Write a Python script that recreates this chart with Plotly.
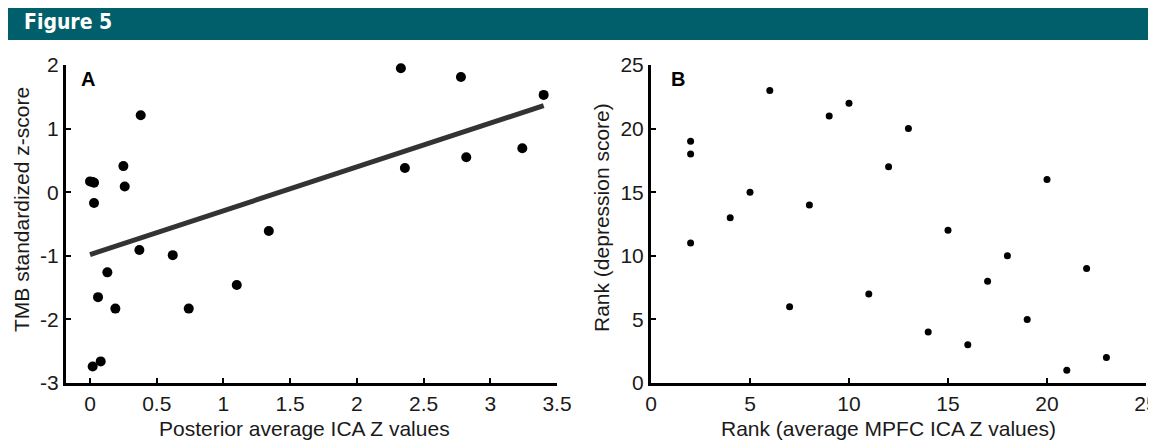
import plotly.graph_objects as go

# Panel A data: posterior average ICA Z values vs TMB standardized z-score
ica_z = [0.00, 0.03, 0.02, 0.03, 0.25, 0.26, 0.38, 0.37, 0.62, 0.13, 0.06, 0.19,
         0.74, 1.10, 1.34, 0.02, 0.08, 2.33, 2.78, 3.40, 2.36, 2.82, 3.24]
tmb_z = [0.17, 0.15, 0.16, -0.17, 0.41, 0.09, 1.21, -0.91, -0.99, -1.26, -1.65, -1.83,
         -1.83, -1.46, -0.61, -2.74, -2.66, 1.95, 1.81, 1.53, 0.38, 0.55, 0.69]
fit_x = [0.0, 3.40]
fit_y = [-0.98, 1.36]

# Panel B data: ranks
rank_mpfc = [2, 2, 2, 4, 5, 6, 7, 8, 9, 10, 11, 12, 13, 14, 15, 16, 17, 18, 19, 20, 21, 22, 23]
rank_dep = [19, 18, 11, 13, 15, 23, 6, 14, 21, 22, 7, 17, 20, 4, 12, 3, 8, 10, 5, 16, 1, 9, 2]

ticks_a_x = [0, 0.5, 1, 1.5, 2, 2.5, 3, 3.5]
ticks_a_y = [-3, -2, -1, 0, 1, 2]
ticks_b = [0, 5, 10, 15, 20, 25]

title_a_x = "Posterior average ICA Z values"
title_a_y = "TMB standardized z-score"
title_b_x = "Rank (average MPFC ICA Z values)"
title_b_y = "Rank (depression score)"

# page body has an 8px margin, so the figure is drawn 8px in from the window edge
OFF = 8
W, H = 1156 - OFF, 440 - OFF
FONT = "Liberation Sans, Arial, Helvetica, sans-serif"
TXT = "#1a1a1a"
FS = 21


def px_x(p):
    return (p - OFF) / W


def px_y(p):
    return 1 - (p - OFF) / H


fig = go.Figure()

fig.add_trace(go.Scatter(x=fit_x, y=fit_y, mode="lines",
                         line=dict(color="#333333", width=5),
                         xaxis="x", yaxis="y", showlegend=False))
fig.add_trace(go.Scatter(x=ica_z, y=tmb_z, mode="markers", cliponaxis=False,
                         marker=dict(color="black", size=10),
                         xaxis="x", yaxis="y", showlegend=False))
fig.add_trace(go.Scatter(x=rank_mpfc, y=rank_dep, mode="markers", cliponaxis=False,
                         marker=dict(color="black", size=7),
                         xaxis="x2", yaxis="y2", showlegend=False))

axis_common = dict(showline=True, linecolor="black", linewidth=3, mirror=False,
                   ticks="inside", ticklen=5, tickwidth=2, tickcolor="black",
                   showgrid=False, zeroline=False, ticklabeloverflow="allow",
                   tickfont=dict(family=FONT, size=FS, color=TXT),
                   automargin=False)
title_font = dict(family=FONT, size=FS, color=TXT)


def label(text, x, y, angle=0):
    return dict(text=text, xref="paper", yref="paper", x=px_x(x), y=px_y(y),
                xanchor="center", yanchor="middle", textangle=angle,
                showarrow=False, font=title_font)


fig.update_layout(
    width=W, height=H,
    margin=dict(l=0, r=0, t=0, b=0),
    paper_bgcolor="white", plot_bgcolor="white",
    xaxis=dict(domain=[px_x(66), px_x(557)], range=[-0.18, 3.5], anchor="y",
               tickvals=ticks_a_x, ticktext=["0", "0.5", "1", "1.5", "2", "2.5", "3", "3.5"],
               **axis_common),
    yaxis=dict(domain=[px_y(383), px_y(65)], range=[-3, 2], anchor="x",
               tickvals=ticks_a_y, ticktext=["-3", "-2", "-1", "0", "1", "2"],
               **axis_common),
    xaxis2=dict(domain=[px_x(651), px_x(1146)], range=[0, 25], anchor="y2",
                tickvals=ticks_b, **axis_common),
    yaxis2=dict(domain=[px_y(383), px_y(65)], range=[0, 25], anchor="x2",
                tickvals=ticks_b, **axis_common),
    shapes=[dict(type="rect", xref="paper", yref="paper",
                 x0=0, x1=1.0, y0=px_y(40), y1=1.0,
                 fillcolor="#005f6b", line=dict(width=0), layer="below")],
    annotations=[
        dict(text="<b>Figure 5</b>", xref="paper", yref="paper",
             x=px_x(22), y=px_y(22), xanchor="left", yanchor="middle",
             showarrow=False,
             font=dict(family="DejaVu Sans Condensed, DejaVu Sans", size=21, color="white")),
        dict(text="<b>A</b>", xref="paper", yref="paper",
             x=px_x(88), y=px_y(79), xanchor="center", yanchor="middle",
             showarrow=False, font=dict(family=FONT, size=20, color="black")),
        dict(text="<b>B</b>", xref="paper", yref="paper",
             x=px_x(678), y=px_y(79), xanchor="center", yanchor="middle",
             showarrow=False, font=dict(family=FONT, size=20, color="black")),
        label(title_a_x, 304, 428),
        label(title_b_x, 888, 428),
        label(title_a_y, 21, 210, -90),
        label(title_b_y, 601, 218, -90),
    ],
)

fig.write_html("out.html")
